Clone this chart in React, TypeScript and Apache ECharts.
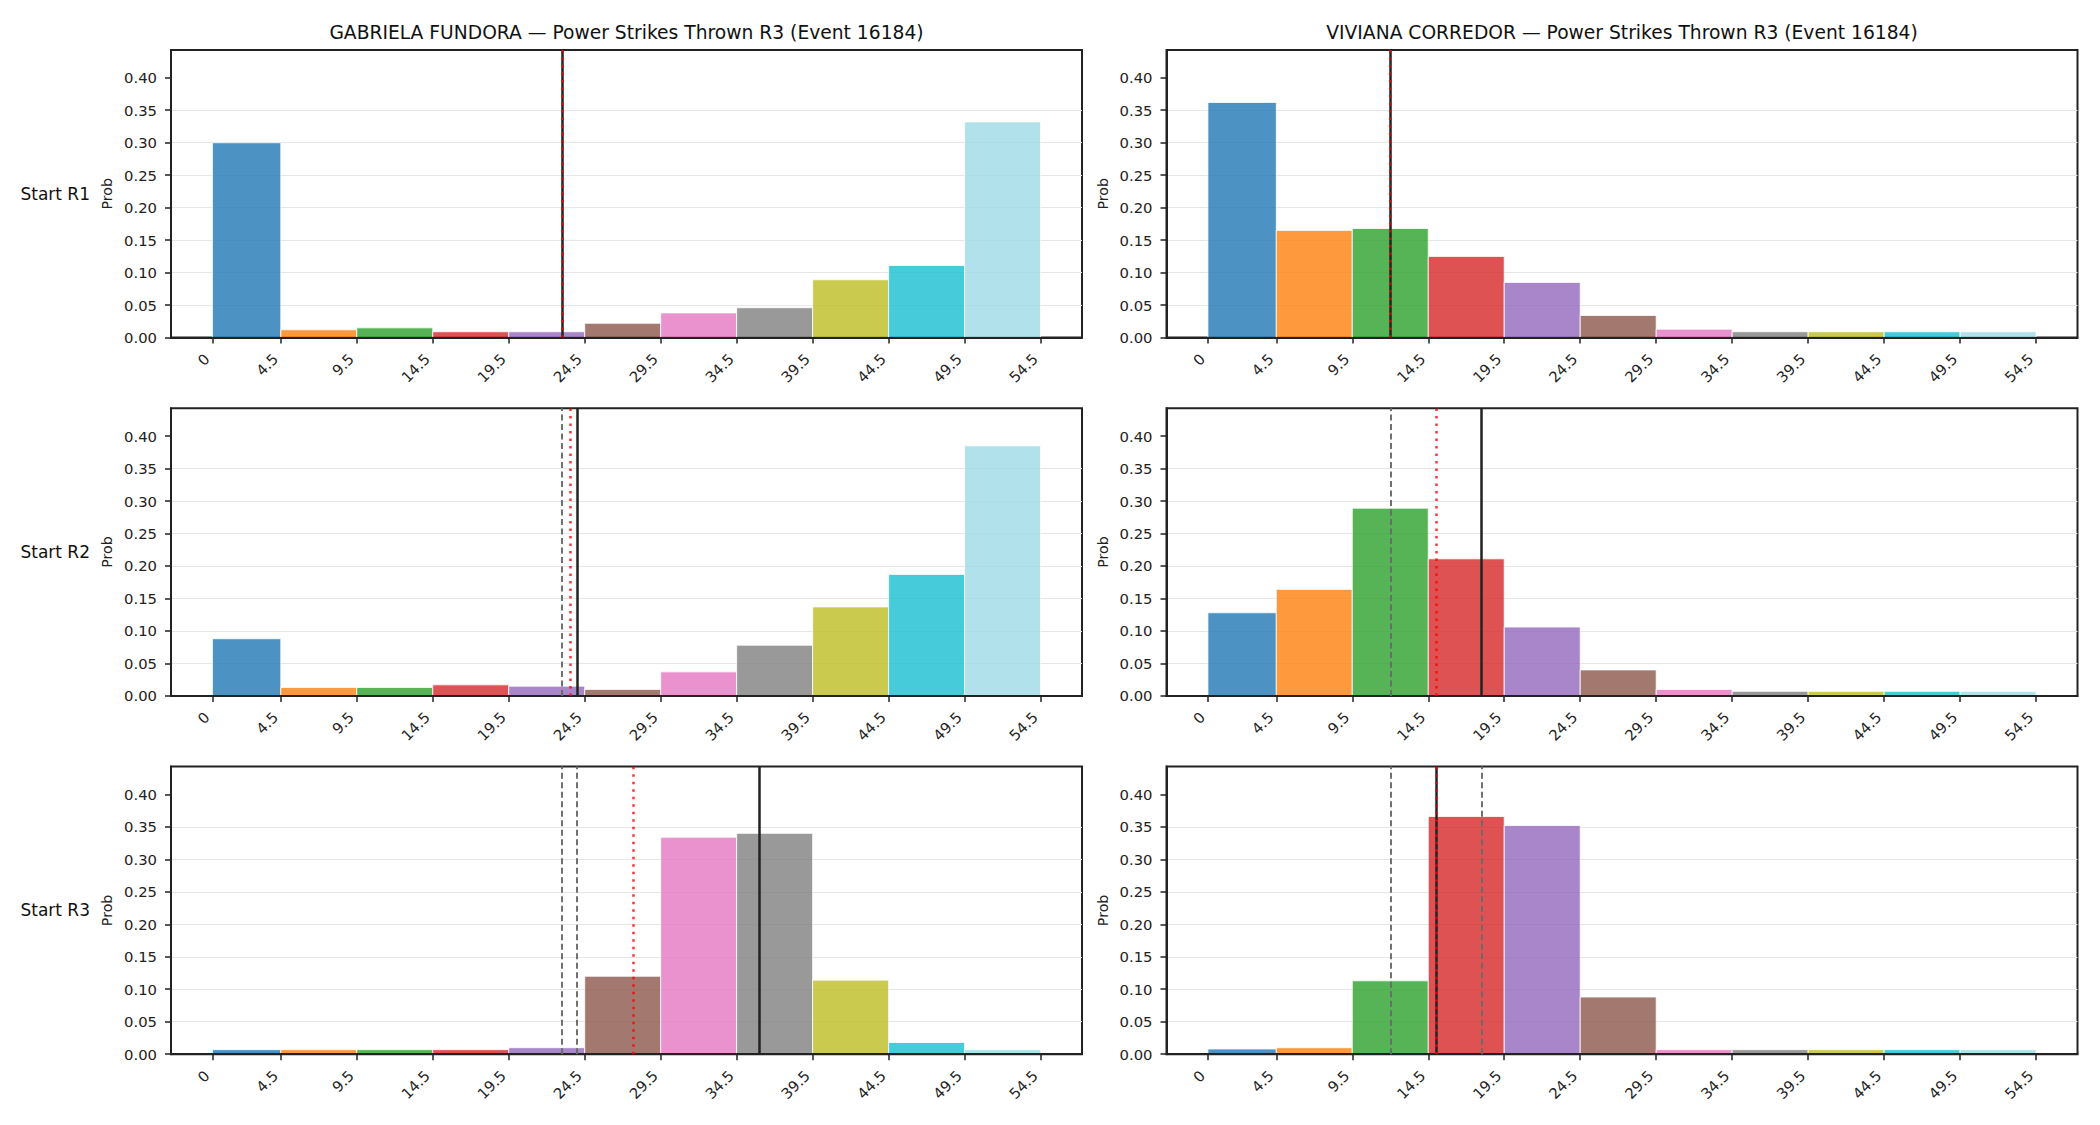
import React, { useEffect, useRef } from 'react';
import * as echarts from 'echarts';

// Histogram bin edges (first bin is 0–4.5, the rest are 5 wide) and tick labels
const binEdges = [0, 4.5, 9.5, 14.5, 19.5, 24.5, 29.5, 34.5, 39.5, 44.5, 49.5, 54.5];
const xTickLabels = ['0', '4.5', '9.5', '14.5', '19.5', '24.5', '29.5', '34.5', '39.5', '44.5', '49.5', '54.5'];
const yTicks = [0, 0.05, 0.1, 0.15, 0.2, 0.25, 0.3, 0.35, 0.4];
const binColors = [
  '#1f77b4', '#ff7f0e', '#2ca02c', '#d62728', '#9467bd', '#8c564b',
  '#e377c2', '#7f7f7f', '#bcbd22', '#17becf', '#9edae5',
];

const fighters = ['GABRIELA FUNDORA', 'VIVIANA CORREDOR'];
const titleSuffix = ' — Power Strikes Thrown R3 (Event 16184)';
const rowLabels = ['Start R1', 'Start R2', 'Start R3'];

// Probability per bin, one array per fighter and starting round
const fundoraR1 = [0.300, 0.012, 0.015, 0.009, 0.009, 0.022, 0.038, 0.046, 0.089, 0.111, 0.332];
const fundoraR2 = [0.088, 0.013, 0.013, 0.017, 0.015, 0.010, 0.037, 0.078, 0.137, 0.187, 0.385];
const fundoraR3 = [0.007, 0.007, 0.007, 0.007, 0.010, 0.120, 0.334, 0.340, 0.114, 0.018, 0.007];
const corredorR1 = [0.362, 0.165, 0.168, 0.125, 0.085, 0.034, 0.013, 0.009, 0.009, 0.009, 0.009];
const corredorR2 = [0.128, 0.164, 0.289, 0.211, 0.106, 0.040, 0.010, 0.007, 0.007, 0.007, 0.007];
const corredorR3 = [0.008, 0.010, 0.113, 0.366, 0.352, 0.088, 0.007, 0.007, 0.007, 0.007, 0.007];

// Reference lines per round: solid, dotted and dashed markers
const fundoraSolid = [23, 24, 36];
const fundoraDotted = [23, 23.55, 27.7];
const fundoraDashed = [[], [23], [23, 24]];
const corredorSolid = [12, 18, 15];
const corredorDotted = [12, 15, 15];
const corredorDashed = [[], [12], [12, 18]];

const FONT = "'DejaVu Sans', 'Liberation Sans', sans-serif";
const INK = '#222222';

// Panel geometry (px)
const colLeft = [171, 1166.5];
const gridWidth = 911;
const rowTop = [50, 408.3, 766.6];
const gridHeight = 287.6;

export default function App() {
  const ref = useRef<HTMLDivElement>(null);

  useEffect(() => {
    if (!ref.current) return;
    const chart = echarts.init(ref.current, undefined, { renderer: 'svg' });

    const values = [
      [fundoraR1, fundoraR2, fundoraR3],
      [corredorR1, corredorR2, corredorR3],
    ];
    const solid = [fundoraSolid, corredorSolid];
    const dotted = [fundoraDotted, corredorDotted];
    const dashed = [fundoraDashed, corredorDashed];

    const allVals = values.flat(2);
    const yMax = Math.max(...allVals) * 1.15;
    const xPad = (binEdges[binEdges.length - 1] - binEdges[0]) * 0.05;

    const grids: any[] = [];
    const xAxes: any[] = [];
    const yAxes: any[] = [];
    const series: any[] = [];
    const graphics: any[] = [];

    for (let c = 0; c < 2; c++) {
      graphics.push({
        type: 'text',
        x: colLeft[c] + gridWidth / 2,
        y: 32,
        style: {
          text: fighters[c] + titleSuffix,
          fontFamily: FONT,
          fontSize: 18.7,
          fill: '#111',
          align: 'center',
          verticalAlign: 'middle',
        },
      });
      for (let r = 0; r < 3; r++) {
        const idx = c * 3 + r;
        grids.push({
          left: colLeft[c],
          top: rowTop[r],
          width: gridWidth,
          height: gridHeight,
          show: true,
          borderColor: INK,
          borderWidth: 2,
          backgroundColor: 'transparent',
        });
        xAxes.push({
          type: 'value',
          gridIndex: idx,
          min: binEdges[0] - xPad,
          max: binEdges[binEdges.length - 1] + xPad,
          z: 3,
          axisLine: { show: true, onZero: false, lineStyle: { color: INK, width: 2 } },
          axisTick: {
            show: true,
            customValues: binEdges,
            length: 6,
            lineStyle: { color: INK, width: 1.5 },
          },
          axisLabel: {
            show: true,
            customValues: binEdges,
            rotate: 45,
            margin: 13,
            padding: [0, 8, 0, 0],
            fontFamily: FONT,
            fontSize: 14.8,
            color: INK,
            formatter: (v: number) => {
              const k = binEdges.findIndex((e) => Math.abs(e - v) < 1e-6);
              return k >= 0 ? xTickLabels[k] : '';
            },
          },
          splitLine: { show: false },
        });
        yAxes.push({
          type: 'value',
          gridIndex: idx,
          min: 0,
          max: yMax,
          interval: 0.05,
          axisLine: { show: true, onZero: false, lineStyle: { color: INK, width: 2 } },
          axisTick: {
            show: true,
            customValues: yTicks,
            length: 6,
            lineStyle: { color: INK, width: 1.5 },
          },
          axisLabel: {
            show: true,
            customValues: yTicks,
            margin: 14,
            fontFamily: FONT,
            fontSize: 14.8,
            color: INK,
            formatter: (v: number) => v.toFixed(2),
          },
          splitLine: {
            show: true,
            showMaxLine: false,
            lineStyle: { color: '#e6e6e6', width: 1 },
          },
        });

        const markData: any[] = [];
        dashed[c][r].forEach((x) =>
          markData.push({ xAxis: x, lineStyle: { color: '#6a6a6a', width: 1.9, type: [6, 3.5] } })
        );
        markData.push({ xAxis: solid[c][r], lineStyle: { color: INK, width: 2.5, type: 'solid' } });
        markData.push({
          xAxis: dotted[c][r],
          lineStyle: { color: 'rgba(255,0,0,0.8)', width: 2.5, type: [2.5, 5] },
        });

        series.push({
          type: 'custom',
          xAxisIndex: idx,
          yAxisIndex: idx,
          data: values[c][r].map((v, k) => [binEdges[k], binEdges[k + 1], v, k]),
          encode: { x: [0, 1], y: 2 },
          renderItem: (_params: any, api: any) => {
            const x0 = api.value(0);
            const x1 = api.value(1);
            const v = api.value(2);
            const k = api.value(3);
            const pTop = api.coord([x0, v]);
            const pBot = api.coord([x1, 0]);
            return {
              type: 'rect',
              shape: {
                x: pTop[0],
                y: pTop[1],
                width: pBot[0] - pTop[0],
                height: pBot[1] - pTop[1],
              },
              style: { fill: binColors[k], opacity: 0.8, stroke: '#ffffff', lineWidth: 1 },
            };
          },
          markLine: {
            silent: true,
            symbol: ['none', 'none'],
            label: { show: false },
            emphasis: { disabled: true },
            data: markData,
          },
        });

        // y-axis title
        graphics.push({
          type: 'text',
          x: colLeft[c] - 64,
          y: rowTop[r] + gridHeight / 2,
          rotation: Math.PI / 2,
          style: {
            text: 'Prob',
            fontFamily: FONT,
            fontSize: 14.2,
            fill: INK,
            align: 'center',
            verticalAlign: 'middle',
          },
        });
        if (c === 0) {
          graphics.push({
            type: 'text',
            x: 90,
            y: rowTop[r] + gridHeight / 2,
            style: {
              text: rowLabels[r],
              fontFamily: FONT,
              fontSize: 17,
              fill: '#111',
              align: 'right',
              verticalAlign: 'middle',
            },
          });
        }
      }
    }

    chart.setOption({
      animation: false,
      backgroundColor: '#ffffff',
      grid: grids,
      xAxis: xAxes,
      yAxis: yAxes,
      series,
      graphic: graphics,
    });

    return () => chart.dispose();
  }, []);

  return (
    <div
      ref={ref}
      style={{ position: 'fixed', left: 0, top: 0, width: 2100, height: 1125, background: '#fff' }}
    />
  );
}
